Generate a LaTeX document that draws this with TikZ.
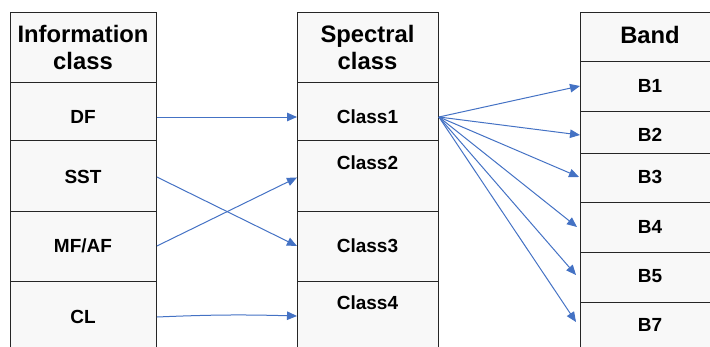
\documentclass[tikz,border=0pt]{standalone}
\usepackage{fontspec}
\setmainfont{Liberation Sans}
\usetikzlibrary{arrows.meta}
\definecolor{cellfill}{HTML}{F8F8F8}
\definecolor{linkblue}{HTML}{4472C4}
\begin{document}
\begin{tikzpicture}[x=1pt,y=-1pt,
  cell/.style={draw=black!85, line width=0.9pt, fill=cellfill, rectangle,
    inner sep=0pt, anchor=north west},
  head/.style={font=\bfseries\fontsize{23.8}{27}\selectfont, align=center, inner sep=0pt},
  lbl/.style={font=\bfseries\fontsize{19}{22}\selectfont, inner sep=0pt},
  link/.style={draw=linkblue, line width=1pt, -{Triangle[length=10pt,width=8.5pt]}}]
\useasboundingbox (0,0) rectangle (710,346);

% information classes
\node[cell, minimum width=146pt, minimum height=70pt] (infohead) at (10,12) {};
\node[cell, minimum width=146pt, minimum height=58pt] (df)  at (10,82) {};
\node[cell, minimum width=146pt, minimum height=71pt] (sst) at (10,140) {};
\node[cell, minimum width=146pt, minimum height=70pt] (mf)  at (10,211) {};
\node[cell, minimum width=146pt, minimum height=80pt] (cl)  at (10,281) {};
\node[head] (infoheadt) at (83,47) {Information\\class};
\node[lbl] (dft)  at (83,117) {DF};
\node[lbl] (sstt) at (83,177) {SST};
\node[lbl] (mft)  at (83,246) {MF/AF};
\node[lbl] (clt)  at (83,317) {CL};

% spectral classes
\node[cell, minimum width=141pt, minimum height=70pt] (spechead) at (297,12) {};
\node[cell, minimum width=141pt, minimum height=58pt] (c1) at (297,82) {};
\node[cell, minimum width=141pt, minimum height=71pt] (c2) at (297,140) {};
\node[cell, minimum width=141pt, minimum height=70pt] (c3) at (297,211) {};
\node[cell, minimum width=141pt, minimum height=80pt] (c4) at (297,281) {};
\node[head] (specheadt) at (367.5,47) {Spectral\\class};
\node[lbl] (c1t) at (367.5,117) {Class1};
\node[lbl] (c2t) at (367.5,163) {Class2};
\node[lbl] (c3t) at (367.5,246) {Class3};
\node[lbl] (c4t) at (367.5,303) {Class4};

% bands
\node[cell, minimum width=140pt, minimum height=49pt] (bandhead) at (580,12) {};
\node[cell, minimum width=140pt, minimum height=50pt] (b1) at (580,61) {};
\node[cell, minimum width=140pt, minimum height=42pt] (b2) at (580,111) {};
\node[cell, minimum width=140pt, minimum height=49pt] (b3) at (580,153) {};
\node[cell, minimum width=140pt, minimum height=50pt] (b4) at (580,202) {};
\node[cell, minimum width=140pt, minimum height=50pt] (b5) at (580,252) {};
\node[cell, minimum width=140pt, minimum height=60pt] (b7) at (580,302) {};
\node[head] (bandheadt) at (650,35) {Band};
\node[lbl] (b1t) at (650,86) {B1};
\node[lbl] (b2t) at (650,135) {B2};
\node[lbl] (b3t) at (650,177) {B3};
\node[lbl] (b4t) at (650,227) {B4};
\node[lbl] (b5t) at (650,276) {B5};
\node[lbl] (b7t) at (650,325) {B7};

% information class -> spectral class
\draw[link] (df.east |- dft) -- (c1.west |- dft);
\draw[link] (sst.east |- sstt) -- (c3.west |- c3t);
\draw[link] (mf.east |- mft) -- ([yshift=-1.5pt]c2.west);
\draw[link] (cl.east |- clt) to[bend left=2] ([yshift=1pt]c4.west |- clt);

% spectral class -> bands
\draw[link] (c1.east |- c1t) -- (b1.west |- b1t);
\draw[link] (c1.east |- c1t) -- (b2.west |- b2t);
\draw[link] (c1.east |- c1t) -- ([xshift=-1pt]b3.west |- b3t);
\draw[link] (c1.east |- c1t) -- ([xshift=-3pt]b4.west |- b4t);
\draw[link] (c1.east |- c1t) -- ([xshift=-4pt,yshift=1pt]b5.west |- b5t);
\draw[link] (c1.east |- c1t) -- ([xshift=-4pt,yshift=3pt]b7.west |- b7t);
\end{tikzpicture}
\end{document}
